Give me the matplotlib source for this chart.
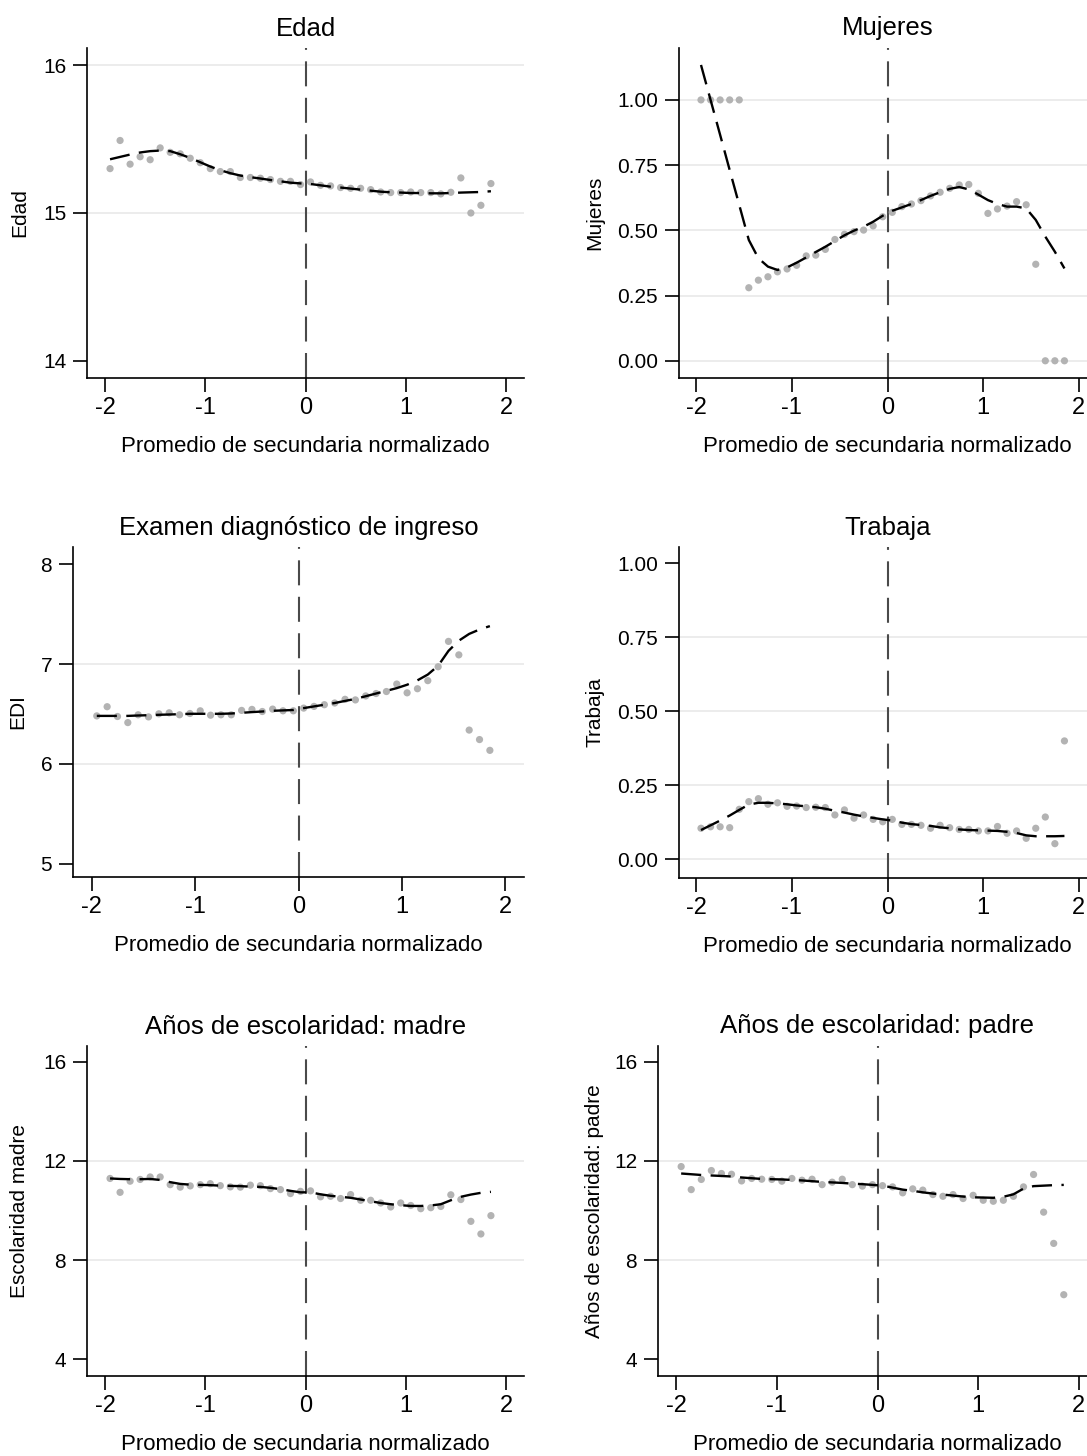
import matplotlib.pyplot as plt

plt.rcParams['font.family'] = ['Liberation Sans', 'DejaVu Sans']

# bins del promedio de secundaria normalizado (centros)
bins = [-1.95, -1.85, -1.75, -1.65, -1.55, -1.45, -1.35, -1.25, -1.15, -1.05,
        -0.95, -0.85, -0.75, -0.65, -0.55, -0.45, -0.35, -0.25, -0.15, -0.05,
        0.05, 0.15, 0.25, 0.35, 0.45, 0.55, 0.65, 0.75, 0.85, 0.95,
        1.05, 1.15, 1.25, 1.35, 1.45, 1.55, 1.65, 1.75, 1.85]

# Edad
edad_pts = [15.30, 15.49, 15.33, 15.38, 15.36, 15.44, 15.41, 15.40, 15.37, 15.34,
            15.30, 15.28, 15.28, 15.24, 15.24, 15.235, 15.226, 15.214, 15.214, 15.192,
            15.21, 15.187, 15.183, 15.172, 15.167, 15.167, 15.158, 15.142, 15.138, 15.138,
            15.142, 15.138, 15.138, 15.129, 15.14, 15.237, 15.00, 15.052, 15.199]
edad_fit = [15.363, 15.379, 15.395, 15.409, 15.418, 15.422, 15.418, 15.397, 15.372, 15.343,
            15.314, 15.289, 15.269, 15.253, 15.242, 15.233, 15.223, 15.214, 15.205, 15.200,
            15.196, 15.187, 15.178, 15.172, 15.165, 15.158, 15.151, 15.144, 15.140, 15.138,
            15.135, 15.135, 15.133, 15.133, 15.135, 15.138, 15.140, 15.142, 15.147]

# Mujeres
mujeres_pts = [1.00, 1.00, 1.00, 1.00, 1.00, 0.280, 0.309, 0.322, 0.341, 0.352,
               0.366, 0.402, 0.405, 0.427, 0.465, 0.485, 0.495, 0.501, 0.517, 0.552,
               0.569, 0.591, 0.601, 0.614, 0.632, 0.646, 0.661, 0.674, 0.676, 0.642,
               0.565, 0.582, 0.593, 0.610, 0.598, 0.370, 0.00, 0.00, 0.00]
mujeres_fit = [1.134, 1.000, 0.866, 0.731, 0.597, 0.463, 0.393, 0.361, 0.348, 0.358,
               0.376, 0.396, 0.417, 0.437, 0.459, 0.481, 0.499, 0.514, 0.533, 0.556,
               0.575, 0.588, 0.601, 0.616, 0.632, 0.646, 0.659, 0.666, 0.657, 0.637,
               0.616, 0.601, 0.591, 0.591, 0.584, 0.540, 0.476, 0.418, 0.354]

# Examen diagnóstico de ingreso (EDI)
edi_pts = [6.481, 6.573, 6.475, 6.414, 6.492, 6.471, 6.502, 6.512, 6.492, 6.505,
           6.532, 6.488, 6.492, 6.492, 6.536, 6.546, 6.525, 6.549, 6.532, 6.532,
           6.559, 6.576, 6.593, 6.610, 6.647, 6.641, 6.681, 6.705, 6.725, 6.800,
           6.712, 6.753, 6.834, 6.973, 7.227, 7.092, 6.339, 6.244, 6.136]
edi_fit = [6.481, 6.481, 6.481, 6.481, 6.485, 6.488, 6.492, 6.495, 6.498, 6.502,
           6.502, 6.502, 6.502, 6.505, 6.512, 6.519, 6.525, 6.532, 6.536, 6.540,
           6.559, 6.576, 6.593, 6.610, 6.631, 6.651, 6.678, 6.705, 6.732, 6.759,
           6.793, 6.837, 6.895, 6.983, 7.132, 7.234, 7.302, 7.346, 7.380]

# Trabaja
trabaja_pts = [0.105, 0.110, 0.110, 0.107, 0.169, 0.195, 0.205, 0.186, 0.191, 0.179,
               0.180, 0.175, 0.176, 0.175, 0.150, 0.167, 0.139, 0.150, 0.135, 0.127,
               0.135, 0.118, 0.118, 0.115, 0.105, 0.115, 0.107, 0.101, 0.101, 0.096,
               0.096, 0.111, 0.088, 0.096, 0.071, 0.105, 0.143, 0.053, 0.400]
trabaja_fit = [0.099, 0.115, 0.131, 0.148, 0.167, 0.185, 0.191, 0.191, 0.189, 0.186,
               0.182, 0.179, 0.176, 0.171, 0.164, 0.158, 0.151, 0.145, 0.140, 0.135,
               0.131, 0.124, 0.119, 0.116, 0.113, 0.108, 0.105, 0.101, 0.099, 0.098,
               0.097, 0.096, 0.093, 0.089, 0.081, 0.078, 0.078, 0.078, 0.079]

# Años de escolaridad: madre
madre_pts = [11.29, 10.73, 11.18, 11.25, 11.35, 11.35, 11.04, 10.94, 10.99, 11.04,
             11.08, 11.00, 10.95, 10.94, 11.02, 11.00, 10.88, 10.84, 10.68, 10.77,
             10.79, 10.55, 10.57, 10.48, 10.64, 10.41, 10.41, 10.30, 10.14, 10.30,
             10.20, 10.07, 10.11, 10.16, 10.63, 10.44, 9.56, 9.05, 9.79]
madre_fit = [11.29, 11.27, 11.26, 11.26, 11.27, 11.23, 11.14, 11.07, 11.04, 11.03,
             11.02, 11.00, 10.99, 10.98, 10.96, 10.95, 10.91, 10.86, 10.79, 10.73,
             10.73, 10.65, 10.59, 10.55, 10.51, 10.44, 10.37, 10.30, 10.25, 10.21,
             10.18, 10.18, 10.20, 10.25, 10.41, 10.55, 10.64, 10.71, 10.75]

# Años de escolaridad: padre
padre_pts = [11.77, 10.84, 11.25, 11.61, 11.49, 11.46, 11.19, 11.29, 11.26, 11.25,
             11.18, 11.29, 11.22, 11.26, 11.04, 11.14, 11.26, 11.04, 10.98, 11.04,
             11.00, 10.95, 10.71, 10.87, 10.82, 10.64, 10.57, 10.64, 10.48, 10.61,
             10.41, 10.37, 10.41, 10.57, 10.95, 11.45, 9.93, 8.67, 6.60]
padre_fit = [11.49, 11.46, 11.43, 11.41, 11.39, 11.37, 11.33, 11.30, 11.27, 11.26,
             11.25, 11.23, 11.21, 11.18, 11.15, 11.13, 11.11, 11.08, 11.06, 11.03,
             11.00, 10.92, 10.84, 10.79, 10.73, 10.68, 10.64, 10.60, 10.56, 10.53,
             10.52, 10.51, 10.55, 10.65, 10.88, 10.98, 11.00, 11.02, 11.03]

xticks = [-2, -1, 0, 1, 2]
xticklabels = ['-2', '-1', '0', '1', '2']
xlabel = 'Promedio de secundaria normalizado'

W, H = 1087, 1456


def caja(left, top, right, bottom):
    return [left / W, 1 - bottom / H, (right - left) / W, (bottom - top) / H]


paneles = [
    # titulo, etiqueta y, puntos, ajuste, ticks y, formato, grid, ylim, caja px, x etiqueta
    ('Edad', 'Edad', edad_pts, edad_fit, [14, 15, 16], '{:.0f}', [15, 16],
     (13.885, 16.115), (87, 48, 524, 378), 20),
    ('Mujeres', 'Mujeres', mujeres_pts, mujeres_fit, [0, 0.25, 0.5, 0.75, 1.0], '{:.2f}',
     [0, 0.25, 0.5, 0.75, 1.0], (-0.066, 1.199), (679, 48, 1096, 378), 595),
    ('Examen diagnóstico de ingreso', 'EDI', edi_pts, edi_fit, [5, 6, 7, 8], '{:.0f}', [6, 7],
     (4.868, 8.172), (73, 547, 524, 877), 18),
    ('Trabaja', 'Trabaja', trabaja_pts, trabaja_fit, [0, 0.25, 0.5, 0.75, 1.0], '{:.2f}',
     [0, 0.25, 0.5, 0.75], (-0.063, 1.055), (679, 547, 1096, 878), 595),
    ('Años de escolaridad: madre', 'Escolaridad madre', madre_pts, madre_fit, [4, 8, 12, 16],
     '{:.0f}', [8, 12], (3.32, 16.634), (87, 1046, 524, 1376), 20),
    ('Años de escolaridad: padre', 'Años de escolaridad: padre', padre_pts, padre_fit,
     [4, 8, 12, 16], '{:.0f}', [8, 12], (3.32, 16.634), (658, 1046, 1097, 1376), 595),
]

fig = plt.figure(figsize=(W / 100, H / 100), dpi=100)

for titulo, ylab, pts, fit, yticks, fmt, grid, ylim, px, ylab_x in paneles:
    ax = fig.add_axes(caja(*px))
    ax.set_xlim(-2.18, 2.18)
    ax.set_ylim(*ylim)

    for g in grid:
        ax.axhline(g, color='#ebebeb', lw=1.3, zorder=0)
    ax.axvline(0, color='#4a4a4a', lw=1.5, ls=(0, (12, 5.5)), zorder=1)

    ax.scatter(bins, pts, s=27, color='#b3b3b3', edgecolors='none', zorder=2)
    ax.plot(bins, fit, color='black', lw=1.7, ls=(0, (8.5, 4)), zorder=3)

    for s in ['top', 'right']:
        ax.spines[s].set_visible(False)
    for s in ['left', 'bottom']:
        ax.spines[s].set_linewidth(1.2)

    ax.set_xticks(xticks)
    ax.set_xticklabels(xticklabels)
    ax.set_yticks(yticks)
    ax.set_yticklabels([fmt.format(v) for v in yticks])
    ax.tick_params(axis='x', labelsize=17, length=10, width=1.2, pad=4)
    ax.tick_params(axis='y', labelsize=15, length=10, width=1.2, pad=5)

    ax.set_title(titulo, fontsize=18.5, pad=9)
    ax.set_xlabel(xlabel, fontsize=16, labelpad=12)

    # etiqueta del eje y centrada en el alto del panel
    yc = 1 - (px[1] + px[3]) / 2 / H
    fig.text(ylab_x / W, yc, ylab, rotation=90, ha='center', va='center', fontsize=15)

fig.savefig('out.png', dpi=100)
